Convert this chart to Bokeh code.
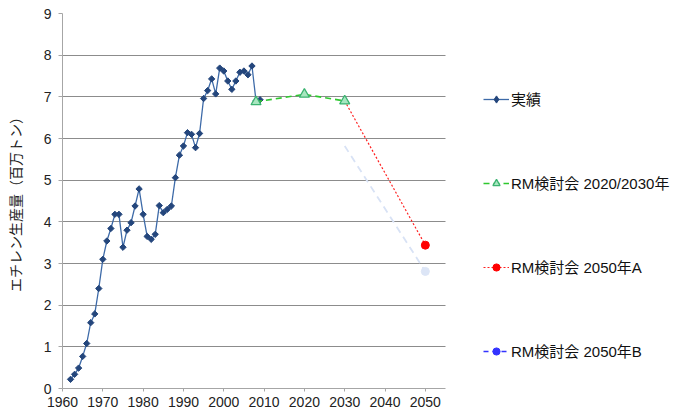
import math
from bokeh.plotting import figure
from bokeh.models import Range1d, FixedTicker, Legend, LegendItem, ColumnDataSource, BoxAnnotation
from bokeh.embed import file_html
from bokeh.resources import INLINE

# ---- data ----
actual_years = list(range(1962, 2010))
actual_values = [0.22, 0.34, 0.49, 0.77, 1.08, 1.58, 1.79, 2.40, 3.10, 3.54,
                 3.84, 4.18, 4.18, 3.39, 3.80, 3.98, 4.38, 4.79, 4.18, 3.65,
                 3.58, 3.70, 4.39, 4.22, 4.30, 4.38, 5.06, 5.60, 5.82, 6.14,
                 6.10, 5.78, 6.12, 6.96, 7.15, 7.43, 7.07, 7.69, 7.62, 7.38,
                 7.18, 7.38, 7.59, 7.62, 7.53, 7.74, 6.90, 6.93]
rm_years = [2008, 2020, 2030]
rm_values = [6.88, 7.06, 6.90]
a_years = [2030, 2050]
a_values = [6.90, 3.44]
b_years = [2030, 2050]
b_values = [5.82, 2.81]
x_ticks = [1960, 1970, 1980, 1990, 2000, 2010, 2020, 2030, 2040, 2050]
y_ticks = [0, 1, 2, 3, 4, 5, 6, 7, 8, 9]

labels = ["実績", "RM検討会 2020/2030年", "RM検討会 2050年A", "RM検討会 2050年B"]
y_label = "エチレン生産量（百万トン）"

LATIN = "Liberation Sans"
MIXED = "Liberation Sans, Noto Sans CJK JP"

# layout: plotted area spans 1960..2055 over 383 px; frame extends to the right
W, H = 674, 413
LEFT, TOP, BOTTOM = 62, 13, 25
X0, X_END_AXIS = 1960, 2055
px_per_year = 383 / (X_END_AXIS - X0)
x_max = X0 + (W - LEFT) / px_per_year

p = figure(width=W, height=H, output_backend="svg", toolbar_location=None,
           x_range=Range1d(X0, x_max), y_range=Range1d(0, 9),
           min_border_left=LEFT, min_border_right=0, min_border_top=TOP,
           min_border_bottom=BOTTOM)
p.outline_line_color = None
p.background_fill_color = "white"
p.border_fill_color = "white"

p.xgrid.grid_line_color = None
p.ygrid.grid_line_color = "#8c8c8c"
p.ygrid.grid_line_width = 1

p.xaxis.ticker = FixedTicker(ticks=x_ticks)
p.yaxis.ticker = FixedTicker(ticks=y_ticks)
p.xaxis.bounds = (X0, X_END_AXIS)
p.xaxis.minor_tick_line_color = None
p.yaxis.minor_tick_line_color = None
for ax in (p.xaxis, p.yaxis):
    ax.axis_line_color = "#a6a6a6"
    ax.major_tick_line_color = "#a6a6a6"
    ax.major_tick_in = 0
    ax.major_label_text_font = LATIN
    ax.major_label_text_font_size = "14px"
    ax.major_label_text_color = "#222222"
p.xaxis.major_tick_out = 3
p.xaxis.major_label_standoff = 5
p.yaxis.major_tick_out = 4
p.yaxis.major_label_standoff = 7
p.yaxis.axis_label = y_label
p.yaxis.axis_label_text_font = "Noto Sans CJK JP"
p.yaxis.axis_label_text_font_size = "14px"
p.yaxis.axis_label_text_font_style = "normal"
p.yaxis.axis_label_text_color = "#222222"
p.yaxis.axis_label_standoff = 16

# blank out the grid to the right of the plotting area (legend region)
p.add_layout(BoxAnnotation(left=X_END_AXIS, fill_color="white", fill_alpha=1,
                           line_color=None, level="underlay"))

# series B (pale)
b_line = p.line(b_years, b_values, line_color="#d8e2f5", line_width=1.8, line_dash="7 5")
b_dot = p.scatter([b_years[-1]], [b_values[-1]], marker="circle", size=8,
                  fill_color="#dce5f6", line_color="#dce5f6")
# series A
a_line = p.line(a_years, a_values, line_color="#ff2020", line_width=1.2, line_dash="2 2")
a_dot = p.scatter([a_years[-1]], [a_values[-1]], marker="circle", size=8,
                  fill_color="#ff0000", line_color="#ff0000")
# actual
act_line = p.line(actual_years, actual_values, line_color="#3d6aa8", line_width=1.3)
act_pts = p.scatter(actual_years, actual_values, marker="square", angle=math.pi / 4,
                    size=4.5, fill_color="#24467c", line_color="#24467c")
# RM 2020/2030
rm_line = p.line(rm_years, rm_values, line_color="#2ec82e", line_width=1.6, line_dash="6 4")
rm_pts = p.scatter(rm_years, rm_values, marker="triangle", size=10,
                   fill_color="#a8e6c0", line_color="#3cb371", line_width=1.3)

# legend proxies (not visible in the plot)
proxy = ColumnDataSource(data=dict(x=[float("nan")], y=[float("nan")]))
act_leg_pt = p.scatter("x", "y", source=proxy, marker="diamond", size=7,
                       fill_color="#24467c", line_color="#24467c")
b_leg_line = p.line("x", "y", source=proxy, line_color="#3333ff", line_width=1.5, line_dash="5 4")
b_leg_dot = p.scatter("x", "y", source=proxy, marker="circle", size=7,
                      fill_color="#3333ff", line_color="#3333ff")

legend = Legend(items=[
    LegendItem(label=labels[0], renderers=[act_line, act_leg_pt]),
    LegendItem(label=labels[1], renderers=[rm_line, rm_pts]),
    LegendItem(label=labels[2], renderers=[a_line, a_dot]),
    LegendItem(label=labels[3], renderers=[b_leg_line, b_leg_dot]),
], location=(421, 27))
legend.padding = 0
legend.margin = 0
legend.spacing = 63
legend.glyph_width = 26
legend.glyph_height = 18
legend.label_height = 18
legend.label_standoff = 2
legend.label_text_font = MIXED
legend.label_text_font_size = "15px"
legend.label_text_color = "#111111"
legend.background_fill_alpha = 0
legend.border_line_alpha = 0
p.add_layout(legend, "center")

open("out.html", "w").write(file_html(p, INLINE))
